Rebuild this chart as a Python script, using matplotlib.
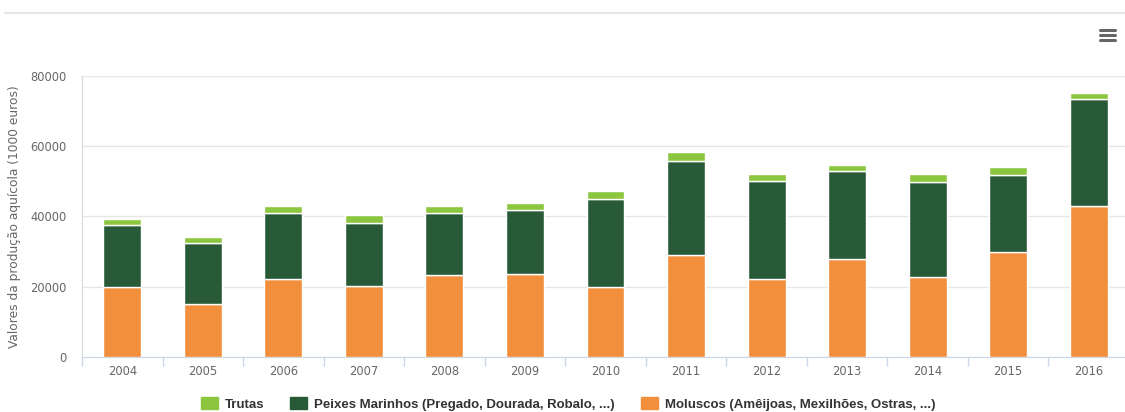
import numpy as np
import matplotlib
matplotlib.use('Agg')
import matplotlib.pyplot as plt
from matplotlib.lines import Line2D
from matplotlib.patches import Patch

# dados (1000 euros)
anos = ['2004', '2005', '2006', '2007', '2008', '2009', '2010',
        '2011', '2012', '2013', '2014', '2015', '2016']
moluscos = [20000, 15000, 22200, 20300, 23350, 23600, 20000,
            29000, 22200, 27900, 22900, 29900, 43000]
peixes = [17600, 17500, 18700, 17900, 17550, 18250, 24900,
          26700, 28000, 25050, 27050, 21900, 30450]
trutas = [1700, 1700, 2100, 2100, 2200, 2100, 2350,
          2650, 1900, 1800, 2200, 2400, 1600]
yticks = [0, 20000, 40000, 60000, 80000]

cor_trutas = '#8cc63f'
cor_peixes = '#285a37'
cor_moluscos = '#f28f3c'

W, H = 1125, 412
fig = plt.figure(figsize=(W / 100, H / 100), dpi=100)
ax = fig.add_axes([82 / W, (H - 357) / H, (1129 - 82) / W, (357 - 76) / H])

x = np.arange(len(anos))
m = np.array(moluscos)
p = np.array(peixes)
t = np.array(trutas)
largura = 0.47
ax.bar(x, m, largura, color=cor_moluscos, edgecolor='white', linewidth=1, zorder=3)
ax.bar(x, p, largura, bottom=m, color=cor_peixes, edgecolor='white', linewidth=1, zorder=3)
ax.bar(x, t, largura, bottom=m + p, color=cor_trutas, edgecolor='white', linewidth=1, zorder=3)

ax.set_xlim(-0.5, len(anos) - 0.5)
ax.set_ylim(0, 80000)
ax.set_yticks(yticks)
ax.set_yticklabels([str(v) for v in yticks])
ax.yaxis.grid(True, color='#e6e6e6', linewidth=1)
ax.set_axisbelow(True)
ax.tick_params(axis='y', length=0, pad=11, labelsize=8.3, labelcolor='#666666')

# ticks entre as categorias
ax.set_xticks(x)
ax.set_xticklabels(anos)
ax.set_xticks(np.arange(-0.5, len(anos)), minor=True)
ax.tick_params(axis='x', which='major', length=0, pad=6, labelsize=8.3, labelcolor='#666666')
ax.tick_params(axis='x', which='minor', length=6.5, color='#ccd6eb', width=1)

for s in ['top', 'right']:
    ax.spines[s].set_visible(False)
ax.spines['bottom'].set_color('#ccd6eb')
ax.spines['left'].set_color('#d8d8d8')

ax.set_ylabel('Valores da produção aquícola (1000 euros)', fontsize=8.8, color='#666666')
ax.yaxis.set_label_coords(-61 / (1129 - 82), 0.5)

# legenda
handles = [Patch(color=cor_trutas), Patch(color=cor_peixes), Patch(color=cor_moluscos)]
labels = ['Trutas', 'Peixes Marinhos (Pregado, Dourada, Robalo, ...)',
          'Moluscos (Amêijoas, Mexilhões, Ostras, ...)']
fig.legend(handles, labels, loc='center', bbox_to_anchor=(568 / W, 1 - 404 / H), ncol=3,
           frameon=False, prop={'size': 9.5, 'weight': 'bold', 'family': 'Liberation Sans'},
           labelcolor='#333333',
           handlelength=1.3, handleheight=1.0, handletextpad=0.5, columnspacing=2.0)

# linha no topo e icone de menu
fig.add_artist(Line2D([5 / W, 1], [1 - 13 / H, 1 - 13 / H], color='#e6e6e6', linewidth=1.5))
for yy in [30, 35, 40]:
    fig.add_artist(Line2D([1100 / W, 1115 / W], [1 - yy / H, 1 - yy / H], color='#666666',
                          linewidth=2.2, solid_capstyle='round'))

fig.savefig('out.png', dpi=100, facecolor='white')
